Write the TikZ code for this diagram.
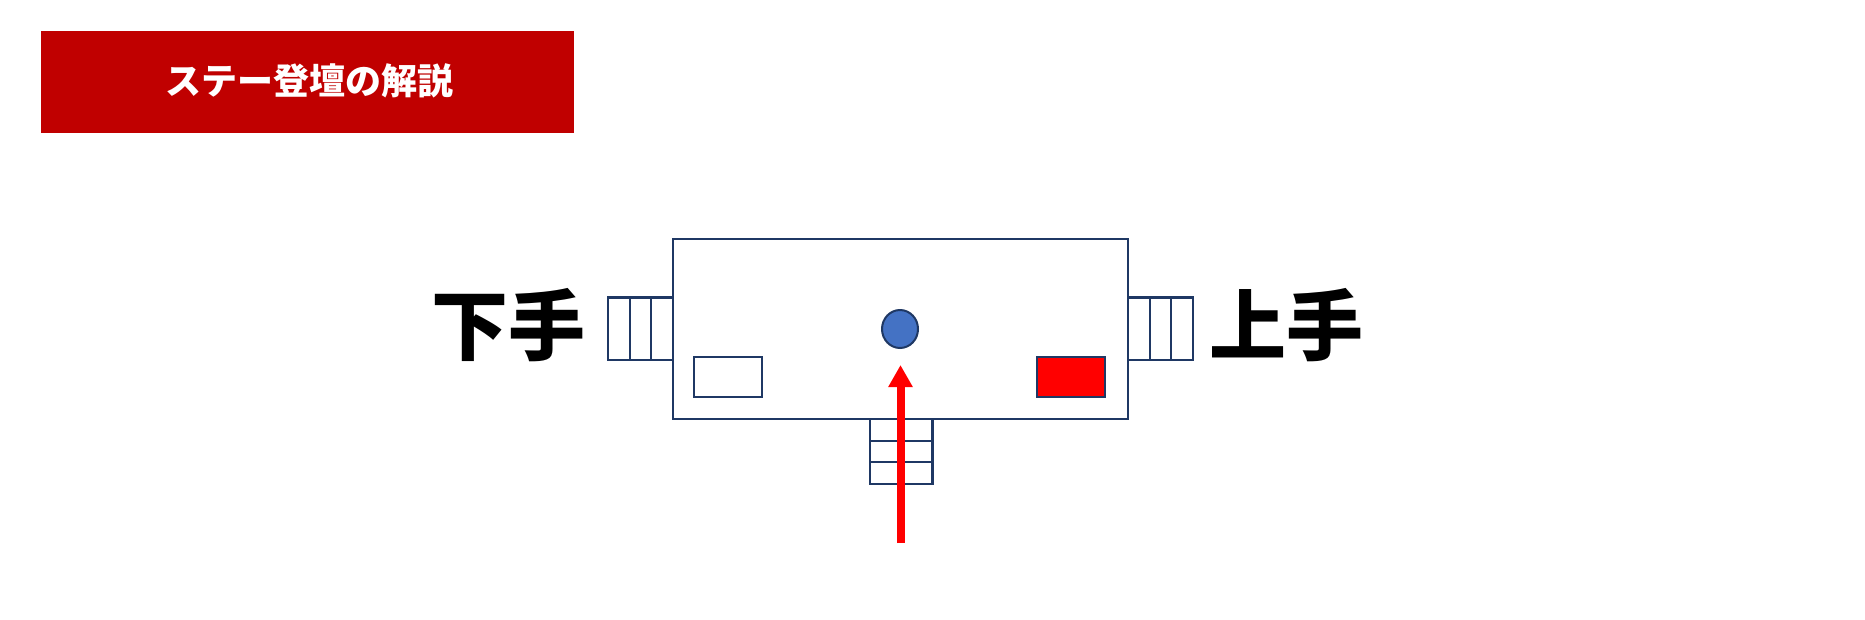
\documentclass[tikz,border=0pt]{standalone}
\usepackage{fontspec}
\newfontfamily\jp{Noto Sans CJK JP}
\usetikzlibrary{arrows.meta,shapes.geometric}
\definecolor{navy}{HTML}{1F3864}
\definecolor{banner}{HTML}{C00000}
\definecolor{dotblue}{HTML}{4472C4}
\definecolor{pure}{HTML}{FF0000}
\tikzset{
  outline/.style={draw=navy, line width=2.5pt},
  box/.style={outline, fill=white},
  bigtext/.style={font=\jp\bfseries\fontsize{77}{92}\selectfont, inner sep=0pt, text=black},
}
\begin{document}
\begin{tikzpicture}[x=1pt,y=-1pt]
\useasboundingbox (0,0) rectangle (1865,619);
% banner
\fill[banner] (41,31) rectangle (574,133);
\node[font=\jp\bfseries\fontsize{36}{44}\selectfont, text=white, inner sep=0pt] (title) at (309,81) {ステー登壇の解説};
% side steps
\draw[box] (608,297.5) rectangle (673,360);
\draw[navy, line width=2.5pt] (630,297.5) -- (630,360) (651,297.5) -- (651,360);
\draw[box] (1128,297.5) rectangle (1193,360);
\draw[navy, line width=2.5pt] (1150,297.5) -- (1150,360) (1171,297.5) -- (1171,360);
% bottom steps
\draw[box] (870,419) rectangle (932.5,484);
\draw[navy, line width=2.5pt] (870,441) -- (932.5,441) (870,462) -- (932.5,462);
% stage
\draw[box] (673,239) rectangle (1128,419);
\node[outline, fill=white, minimum width=68pt, minimum height=40pt, inner sep=0pt] (whitebox) at (728,377) {};
\node[outline, fill=pure, minimum width=68pt, minimum height=40pt, inner sep=0pt] (redbox) at (1071,377) {};
\node[draw=navy, line width=2pt, fill=dotblue, ellipse, minimum width=36pt, minimum height=38pt, inner sep=0pt] (dot) at (900,329) {};
% labels
\node[bigtext] (shimote) at (508,325) {下手};
\node[bigtext] (kamite) at (1286,325) {上手};
% arrow
\coordinate (arrowstart) at (900.5,543);
\coordinate (arrowtip) at (900.5,365);
\draw[pure, line width=8pt, -{Triangle[width=23pt,length=22pt]}] (arrowstart) -- (arrowtip);
\end{tikzpicture}
\end{document}
